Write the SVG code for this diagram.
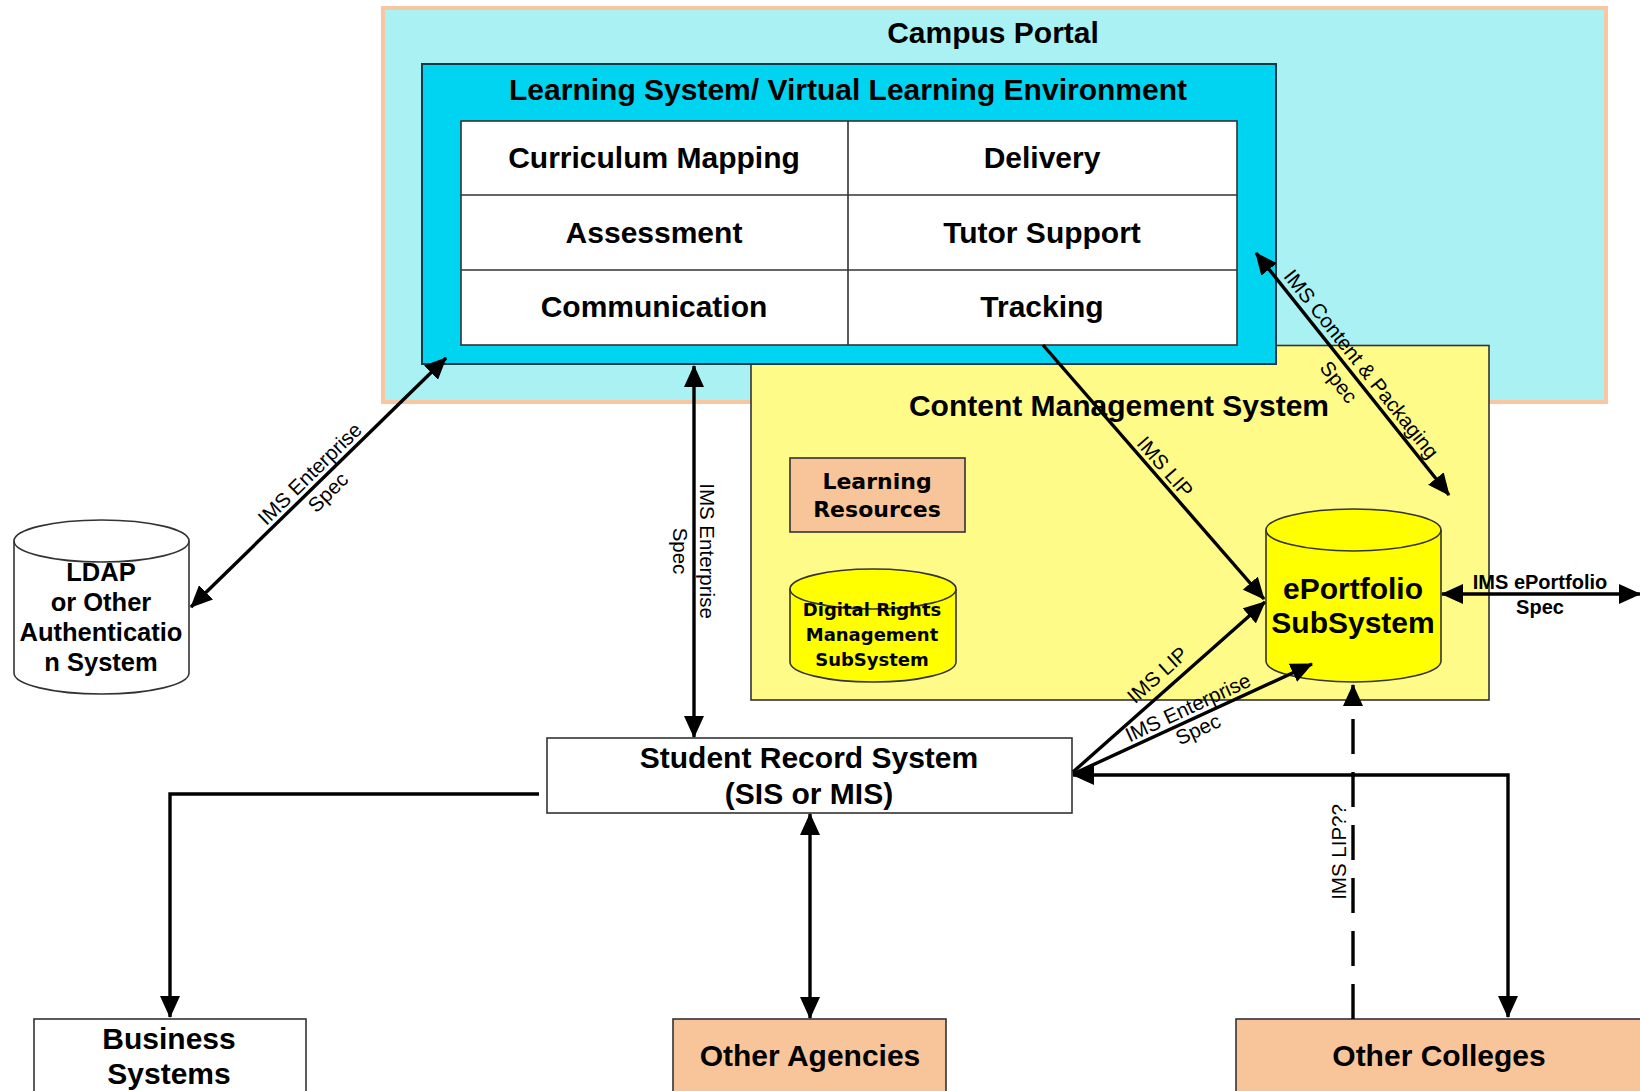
<svg xmlns="http://www.w3.org/2000/svg" width="1640" height="1091" viewBox="0 0 1640 1091">
<style>
.t{font-family:"Liberation Sans",Arial,sans-serif;font-weight:bold;font-size:30px;fill:#000;text-anchor:middle}
.s{font-size:25.5px}
.v{font-family:"DejaVu Sans",Verdana,sans-serif;font-weight:bold;fill:#000;text-anchor:middle}
.l{font-family:"Liberation Sans",Arial,sans-serif;font-size:20.5px;fill:#000;text-anchor:middle}
.lb{font-family:"Liberation Sans",Arial,sans-serif;font-size:20px;font-weight:bold;fill:#000;text-anchor:middle}
.box{stroke:#333;stroke-width:1.6}
.c{fill:none;stroke:#000;stroke-width:3.4}
</style>
<defs>
<marker id="ah" markerUnits="userSpaceOnUse" markerWidth="22" markerHeight="20" viewBox="0 0 22 20" refX="21" refY="10" orient="auto-start-reverse">
<path d="M0,0 L22,10 L0,20 Z" fill="#000"/>
</marker>
</defs>
<rect width="1640" height="1091" fill="#fff"/>

<g id="campus-portal">
<rect x="383" y="8" width="1223" height="394" fill="#a9f1f2" stroke="#f8c6a0" stroke-width="4"/>
<text class="t" x="993" y="43">Campus Portal</text>
</g>

<g id="cms">
<rect class="box" x="751" y="345.5" width="738" height="354.5" fill="#fffb88"/>
<text class="t" x="1119" y="416">Content Management System</text>
</g>

<g id="vle">
<rect x="422" y="64" width="854" height="300" fill="#00d4f0" stroke="#1a3a4a" stroke-width="2"/>
<text class="t" x="848" y="100">Learning System/ Virtual Learning Environment</text>
<rect class="box" x="461" y="121" width="776" height="224" fill="#fff"/>
<line class="box" x1="848" y1="121" x2="848" y2="345"/>
<line class="box" x1="461" y1="195" x2="1237" y2="195"/>
<line class="box" x1="461" y1="270" x2="1237" y2="270"/>
</g>
<g id="curriculum-mapping"><text class="t" x="654" y="168">Curriculum Mapping</text></g>
<g id="delivery"><text class="t" x="1042" y="168">Delivery</text></g>
<g id="assessment"><text class="t" x="654" y="243">Assessment</text></g>
<g id="tutor-support"><text class="t" x="1042" y="243">Tutor Support</text></g>
<g id="communication"><text class="t" x="654" y="317">Communication</text></g>
<g id="tracking"><text class="t" x="1042" y="317">Tracking</text></g>

<g id="learning-resources">
<rect class="box" x="790" y="458" width="175" height="74" fill="#f8c59a"/>
<text class="v" font-size="22" x="877" y="489">Learning</text>
<text class="v" font-size="22" x="877" y="517">Resources</text>
</g>

<g id="drm">
<path class="box" d="M790,589 L790,662 A83,20 0 0 0 956,662 L956,589 A83,20 0 0 0 790,589 Z" fill="#ffff00"/>
<path class="box" d="M790,589 A83,20 0 0 0 956,589" fill="none"/>
<text class="v" font-size="18" x="872" y="616">Digital Rights</text>
<text class="v" font-size="18" x="872" y="641">Management</text>
<text class="v" font-size="18" x="872" y="666">SubSystem</text>
</g>

<g id="eportfolio">
<path class="box" d="M1266,530 L1266,661 A87.5,21 0 0 0 1441,661 L1441,530 A87.5,21 0 0 0 1266,530 Z" fill="#ffff00"/>
<path class="box" d="M1266,530 A87.5,21 0 0 0 1441,530" fill="none"/>
<text class="t" x="1353" y="599">ePortfolio</text>
<text class="t" x="1353" y="633">SubSystem</text>
</g>

<g id="ldap">
<path class="box" d="M14,541 L14,673 A87.5,21 0 0 0 189,673 L189,541 A87.5,21 0 0 0 14,541 Z" fill="#fff"/>
<path class="box" d="M14,541 A87.5,21 0 0 0 189,541" fill="none"/>
<text class="t s" x="101" y="581">LDAP</text>
<text class="t s" x="101" y="611">or Other</text>
<text class="t s" x="101" y="641">Authenticatio</text>
<text class="t s" x="101" y="671">n System</text>
</g>

<g id="student-record-system">
<rect class="box" x="547" y="738" width="525" height="75" fill="#fff"/>
<text class="t" x="809" y="768">Student Record System</text>
<text class="t" x="809" y="804">(SIS or MIS)</text>
</g>

<g id="business-systems">
<rect class="box" x="34" y="1019" width="272" height="80" fill="#fff"/>
<text class="t" x="169" y="1049">Business</text>
<text class="t" x="169" y="1084">Systems</text>
</g>

<g id="other-agencies">
<rect class="box" x="673" y="1019" width="273" height="80" fill="#f8c59a"/>
<text class="t" x="810" y="1066">Other Agencies</text>
</g>

<g id="other-colleges">
<rect class="box" x="1236" y="1019" width="420" height="80" fill="#f8c59a"/>
<text class="t" x="1439" y="1066">Other Colleges</text>
</g>

<g id="connectors">
<path class="c" d="M191,607 L446,358" marker-start="url(#ah)" marker-end="url(#ah)"/>
<path class="c" d="M694,366 L694,737" marker-start="url(#ah)" marker-end="url(#ah)"/>
<path class="c" d="M1043,345 L1264,599" marker-end="url(#ah)"/>
<path class="c" d="M1256,253 L1449,495" marker-start="url(#ah)" marker-end="url(#ah)"/>
<path class="c" d="M1442,594 L1640,594" marker-start="url(#ah)" marker-end="url(#ah)"/>
<path class="c" d="M1073,772 L1265,602" marker-end="url(#ah)"/>
<path class="c" d="M1073,774 L1312,664" marker-end="url(#ah)"/>
<path class="c" d="M1073,775 L1508,775 L1508,1017" marker-start="url(#ah)" marker-end="url(#ah)"/>
<path class="c" d="M539,794 L170,794 L170,1017" stroke-width="4" marker-end="url(#ah)"/>
<path class="c" d="M810,814 L810,1018" marker-start="url(#ah)" marker-end="url(#ah)"/>
<path class="c" d="M1353,1019 L1353,685" stroke-dasharray="35 18" marker-end="url(#ah)"/>

<g transform="translate(319,483) rotate(-44.4)">
<text class="l" x="0" y="-6">IMS Enterprise</text>
<text class="l" x="0" y="20">Spec</text>
</g>
<g transform="translate(692.5,551) rotate(90)">
<text class="l" x="0" y="-7">IMS Enterprise</text>
<text class="l" x="0" y="20">Spec</text>
</g>
<g transform="translate(1165,467) rotate(49)">
<text class="l" x="0" y="7">IMS LIP</text>
</g>
<g transform="translate(1350,373) rotate(51.5)">
<text class="l" x="0" y="-7.5">IMS Content &amp; Packaging</text>
<text class="l" x="0" y="21.5">Spec</text>
</g>
<g transform="translate(1157.5,675) rotate(-42)">
<text class="l" x="0" y="7">IMS LIP</text>
</g>
<g transform="translate(1193,718.5) rotate(-25)">
<text class="l" x="0" y="-5">IMS Enterprise</text>
<text class="l" x="0" y="19">Spec</text>
</g>
<g transform="translate(1338.5,852) rotate(-90)">
<text class="l" x="0" y="7">IMS LIP??</text>
</g>
<text class="lb" x="1540" y="589">IMS ePortfolio</text>
<text class="lb" x="1540" y="614">Spec</text>
</g>
</svg>
